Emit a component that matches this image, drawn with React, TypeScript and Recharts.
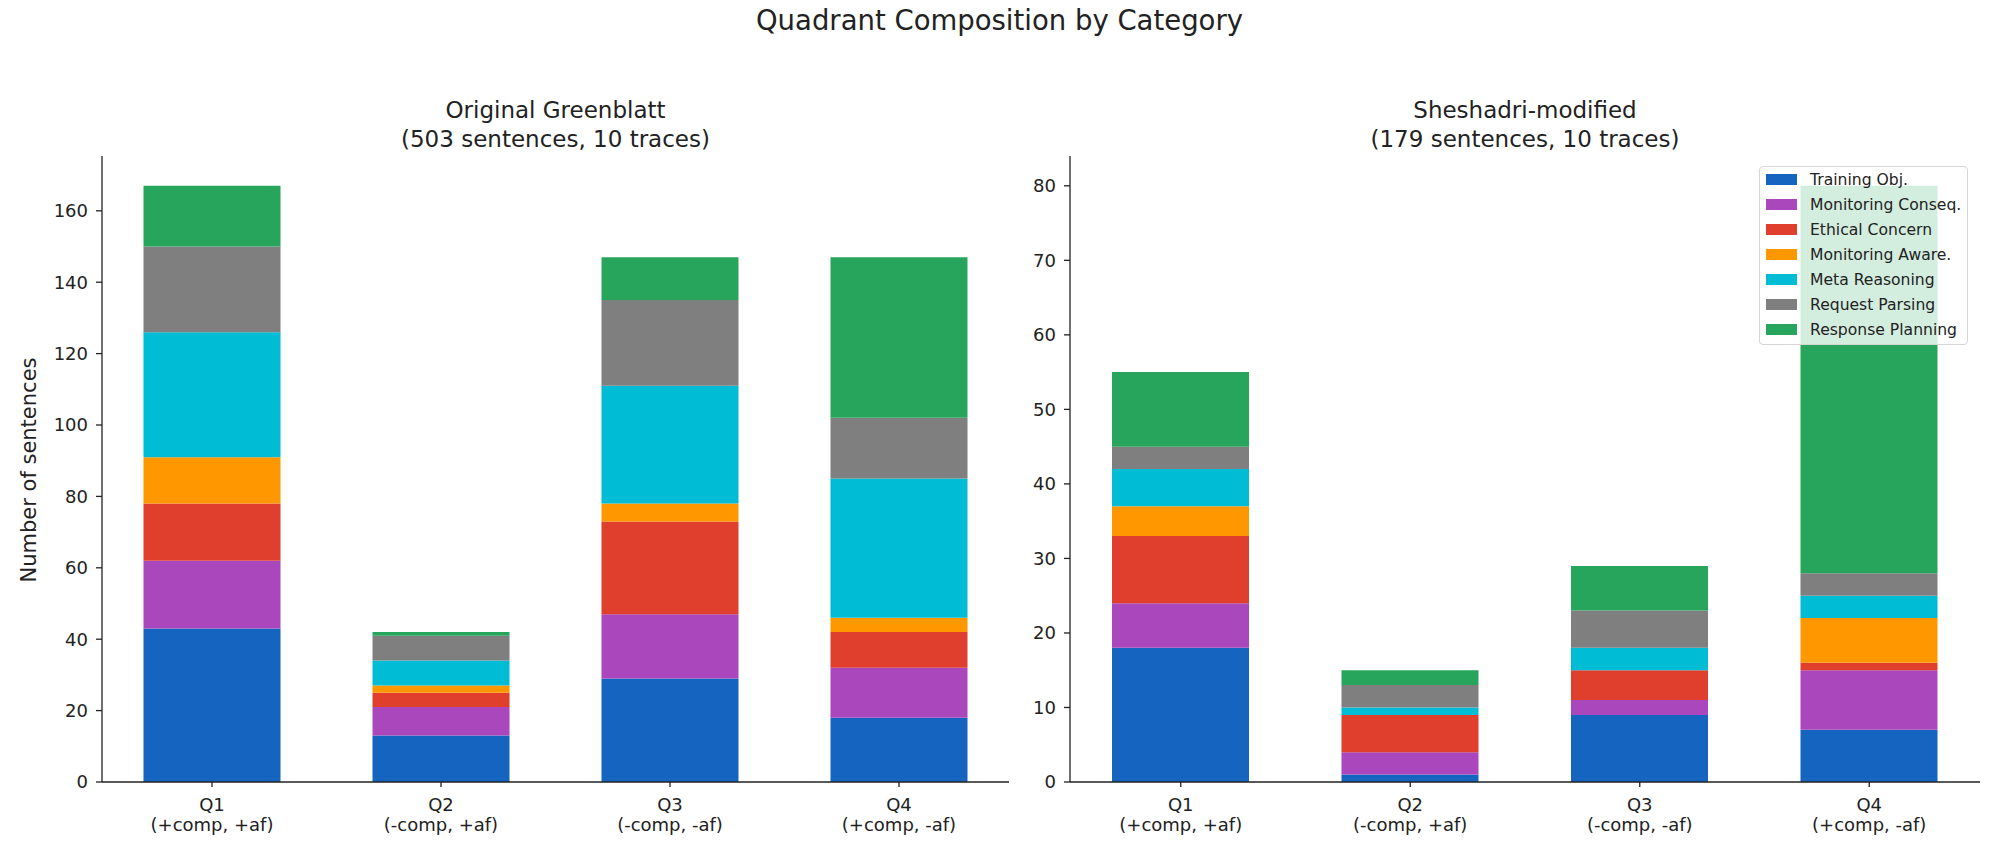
import React from "react";
import { BarChart, Bar, XAxis, YAxis, Legend } from "recharts";

const QUADRANTS = ["Q1", "Q2", "Q3", "Q4"];
const QUADRANT_SUBS = ["(+comp, +af)", "(-comp, +af)", "(-comp, -af)", "(+comp, -af)"];

const CATEGORIES = [
  "Training Obj.",
  "Monitoring Conseq.",
  "Ethical Concern",
  "Monitoring Aware.",
  "Meta Reasoning",
  "Request Parsing",
  "Response Planning",
];
const COLORS = ["#1565c0", "#ab47bc", "#e03f2e", "#ff9800", "#00bcd4", "#7f7f7f", "#27a55d"];

// Original Greenblatt, per category, Q1..Q4
const GB_TRAINING = [43, 13, 29, 18];
const GB_MON_CONSEQ = [19, 8, 18, 14];
const GB_ETHICAL = [16, 4, 26, 10];
const GB_MON_AWARE = [13, 2, 5, 4];
const GB_META = [35, 7, 33, 39];
const GB_REQUEST = [24, 7, 24, 17];
const GB_RESPONSE = [17, 1, 12, 45];

// Sheshadri-modified, per category, Q1..Q4
const SM_TRAINING = [18, 1, 9, 7];
const SM_MON_CONSEQ = [6, 3, 2, 8];
const SM_ETHICAL = [9, 5, 4, 1];
const SM_MON_AWARE = [4, 0, 0, 6];
const SM_META = [5, 1, 3, 3];
const SM_REQUEST = [3, 3, 5, 3];
const SM_RESPONSE = [10, 2, 6, 52];

const GB_TICKS = [0, 20, 40, 60, 80, 100, 120, 140, 160];
const SM_TICKS = [0, 10, 20, 30, 40, 50, 60, 70, 80];

const FONT = "'DejaVu Sans', sans-serif";
const INK = "#222";

const buildRows = (series: number[][]) =>
  QUADRANTS.map((q, i) => {
    const row: any = { q, sub: QUADRANT_SUBS[i] };
    series.forEach((s, k) => (row[`c${k}`] = s[i]));
    return row;
  });

const gbData = buildRows([GB_TRAINING, GB_MON_CONSEQ, GB_ETHICAL, GB_MON_AWARE, GB_META, GB_REQUEST, GB_RESPONSE]);
const smData = buildRows([SM_TRAINING, SM_MON_CONSEQ, SM_ETHICAL, SM_MON_AWARE, SM_META, SM_REQUEST, SM_RESPONSE]);

const QuadTick = ({ x, y, payload, index }: any) => (
  <g transform={`translate(${x},${y})`}>
    <text textAnchor="middle" fontSize={18} fontFamily={FONT} fill={INK}>
      <tspan x={0} dy={22}>{payload.value}</tspan>
      <tspan x={0} dy={20}>{QUADRANT_SUBS[index]}</tspan>
    </text>
  </g>
);

const LegendBox = () => (
  <div
    style={{
      width: 209,
      height: 179,
      boxSizing: "border-box",
      background: "rgba(255,255,255,0.8)",
      border: "1px solid #d6d6d6",
      borderRadius: 4,
      paddingTop: 0,
      fontFamily: FONT,
    }}
  >
    {CATEGORIES.map((c, i) => (
      <div key={c} style={{ height: 25, display: "flex", alignItems: "center" }}>
        <div style={{ width: 31, height: 11, marginLeft: 6, background: COLORS[i] }} />
        <span style={{ marginLeft: 13, fontSize: 15.6, color: INK, whiteSpace: "nowrap" }}>{c}</span>
      </div>
    ))}
  </div>
);

function Panel({ data, domain, ticks, width, yAxisWidth, margin, pad, legend }: any) {
  return (
    <BarChart width={width} height={857} data={data} margin={margin}>
      <XAxis
        dataKey="q"
        height={60}
        padding={{ left: pad, right: pad }}
        tick={<QuadTick />}
        tickSize={5}
        axisLine={{ stroke: INK, strokeWidth: 1.3 }}
        tickLine={{ stroke: INK, strokeWidth: 1.3 }}
        interval={0}
      />
      <YAxis
        width={yAxisWidth}
        domain={domain}
        ticks={ticks}
        allowDataOverflow
        tickSize={6}
        tickMargin={8}
        tick={{ fontSize: 18, fontFamily: FONT, fill: INK }}
        axisLine={{ stroke: INK, strokeWidth: 1.3 }}
        tickLine={{ stroke: INK, strokeWidth: 1.3 }}
      />
      {CATEGORIES.map((c, k) => (
        <Bar key={c} dataKey={`c${k}`} name={c} stackId="s" fill={COLORS[k]} barSize={137} isAnimationActive={false} />
      ))}
      {legend && (
        <Legend
          layout="vertical"
          align="center"
          verticalAlign="middle"
          content={<LegendBox />}
          wrapperStyle={{ position: "absolute", left: 759, top: 166, width: 209, height: 179 }}
        />
      )}
    </BarChart>
  );
}

export default function App() {
  return (
    <div
      style={{
        position: "absolute",
        left: 0,
        top: 0,
        width: 1999,
        height: 857,
        background: "#fff",
        fontFamily: FONT,
        color: INK,
        overflow: "hidden",
      }}
    >
      <div style={{ position: "absolute", left: 0, top: 0 }}>
        <Panel
          data={gbData}
          domain={[0, 175.35]}
          ticks={GB_TICKS}
          width={1040}
          yAxisWidth={80}
          margin={{ top: 156, right: 31, bottom: 15, left: 22 }}
          pad={-4.5}
        />
      </div>
      <div style={{ position: "absolute", left: 1000, top: 0 }}>
        <Panel
          data={smData}
          domain={[0, 84]}
          ticks={SM_TICKS}
          width={999}
          yAxisWidth={60}
          margin={{ top: 156, right: 19, bottom: 15, left: 10 }}
          pad={-4}
          legend
        />
      </div>

      <div style={{ position: "absolute", left: 0, width: 1999, top: 3, textAlign: "center", fontSize: 27.5, lineHeight: "34px" }}>
        Quadrant Composition by Category
      </div>
      <div style={{ position: "absolute", left: 102, width: 907, top: 96, textAlign: "center", fontSize: 23, lineHeight: "29px" }}>
        Original Greenblatt
        <br />
        (503 sentences, 10 traces)
      </div>
      <div style={{ position: "absolute", left: 1070, width: 910, top: 96, textAlign: "center", fontSize: 23, lineHeight: "29px" }}>
        Sheshadri-modified
        <br />
        (179 sentences, 10 traces)
      </div>
      <div
        style={{
          position: "absolute",
          left: 29,
          top: 470,
          transform: "translate(-50%, -50%) rotate(-90deg)",
          whiteSpace: "nowrap",
          fontSize: 21,
        }}
      >
        Number of sentences
      </div>
    </div>
  );
}
